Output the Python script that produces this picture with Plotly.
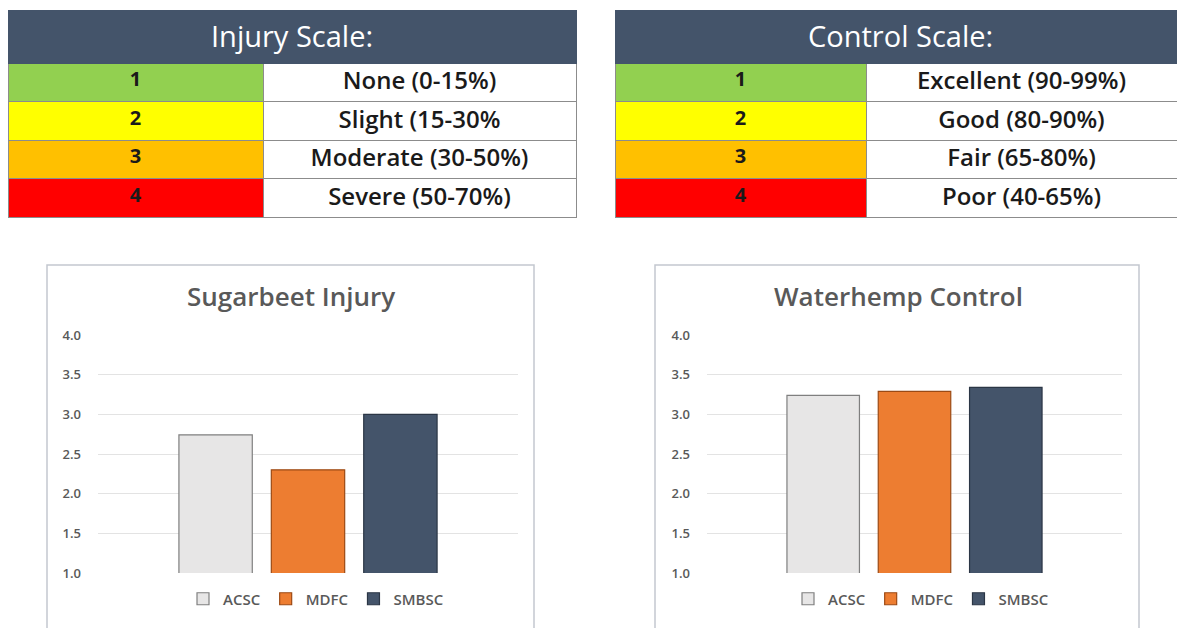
import plotly.graph_objects as go

W, H = 1177, 628

# ---------------- data ----------------
scale_levels = ["1", "2", "3", "4"]
scale_colors = ["#92D050", "#FFFF00", "#FFC000", "#FF0000"]
injury_labels = ["None (0-15%)", "Slight (15-30%", "Moderate (30-50%)", "Severe (50-70%)"]
control_labels = ["Excellent (90-99%)", "Good (80-90%)", "Fair (65-80%)", "Poor (40-65%)"]

series = ["ACSC", "MDFC", "SMBSC"]
series_colors = ["#E7E6E6", "#ED7D31", "#44546A"]
series_lines = ["#7F7F7F", "#9C4A14", "#2B3645"]
injury_values = [2.74, 2.30, 3.00]
control_values = [3.24, 3.29, 3.34]
y_ticks = [1.0, 1.5, 2.0, 2.5, 3.0, 3.5, 4.0]

FONT = "Open Sans"
GRAY = "#595959"
HEADER = "#44546A"


def X(px):
    return px / W


def Y(py):
    return 1 - py / H


fig = go.Figure()

# ---------------- scale tables ----------------
def add_table(x0, x1, split, labels):
    fig.add_trace(go.Table(
        domain=dict(x=[X(x0), min(X(x1), 1)], y=[Y(220), Y(10)]),
        columnwidth=[split - x0, x1 - split],
        header=dict(values=["", ""], height=53,
                    fill_color=HEADER, line=dict(color=HEADER, width=1)),
        cells=dict(values=[scale_levels, labels], height=38.5,
                   align="center",
                   fill_color=[scale_colors, ["#FFFFFF"] * len(labels)],
                   line=dict(color="#8C8C8C", width=1),
                   font=dict(family=FONT, size=[20, 24], color=["#1A1A1A", "#1A1A1A"],
                             weight=[700, 600])),
    ))


add_table(8, 576, 263, injury_labels)
add_table(615, 1177, 866, control_labels)


def ann(x, y, text, size, color, weight=400):
    return dict(x=X(x), y=Y(y), text=text, showarrow=False, xref="paper", yref="paper",
                xanchor="center", yanchor="middle",
                font=dict(family=FONT, size=size, color=color, weight=weight))


annotations = [
    ann(292, 36, "Injury Scale:", 29, "#FFFFFF", 500),
    ann(900, 36, "Control Scale:", 29, "#FFFFFF", 500),
    ann(291, 296, "Sugarbeet Injury", 26, GRAY, 600),
    ann(898, 296, "Waterhemp Control", 26, GRAY, 600),
]

# ---------------- bar charts ----------------
for i, name in enumerate(series):
    fig.add_trace(go.Bar(x=[0], y=[injury_values[i]], name=name, xaxis="x", yaxis="y",
                         marker=dict(color=series_colors[i], line=dict(color=series_lines[i], width=1.2)),
                         legend="legend"))
for i, name in enumerate(series):
    fig.add_trace(go.Bar(x=[0], y=[control_values[i]], name=name, xaxis="x2", yaxis="y2",
                         marker=dict(color=series_colors[i], line=dict(color=series_lines[i], width=1.2)),
                         legend="legend2"))

yax = dict(range=[1, 4], tickvals=y_ticks, tickformat=".1f", showgrid=True, gridcolor="#E3E3E3",
           gridwidth=1, zeroline=False, showline=False, ticks="", ticklabelstandoff=16,
           tickfont=dict(family=FONT, size=13, color=GRAY, weight=600), fixedrange=True,
           automargin=False)
xax = dict(range=[-0.5, 0.5], showticklabels=False, showgrid=False, zeroline=False,
           showline=False, ticks="", fixedrange=True, automargin=False)

legend_common = dict(orientation="h", xanchor="center", yanchor="middle",
                     font=dict(family=FONT, size=15, color=GRAY, weight=600), bgcolor="rgba(0,0,0,0)",
                     traceorder="normal", itemwidth=30, itemclick=False)

shapes = [
    dict(type="rect", xref="paper", yref="paper", x0=X(47), x1=X(534), y0=Y(660), y1=Y(265),
         line=dict(color="#C3C8D0", width=1.5), fillcolor="rgba(0,0,0,0)", layer="below"),
    dict(type="rect", xref="paper", yref="paper", x0=X(655), x1=X(1139), y0=Y(660), y1=Y(265),
         line=dict(color="#C3C8D0", width=1.5), fillcolor="rgba(0,0,0,0)", layer="below"),
]

fig.update_layout(
    width=W, height=H, autosize=False,
    margin=dict(l=0, r=0, t=0, b=0, pad=0, autoexpand=False),
    paper_bgcolor="#FFFFFF", plot_bgcolor="rgba(0,0,0,0)",
    barmode="group", bargap=0.34, bargroupgap=0.206,
    xaxis=dict(domain=[X(98), X(518)], anchor="y", **xax),
    yaxis=dict(domain=[Y(573), Y(335)], anchor="x", **yax),
    xaxis2=dict(domain=[X(707), X(1122)], anchor="y2", **xax),
    yaxis2=dict(domain=[Y(573), Y(335)], anchor="x2", **yax),
    legend=dict(x=X(316), y=Y(599), **legend_common),
    legend2=dict(x=X(921), y=Y(599), **legend_common),
    annotations=annotations,
    shapes=shapes,
    font=dict(family=FONT),
)

fig.write_html("out.html", config={"displayModeBar": False, "staticPlot": True},
               post_script="document.body.style.margin='0';document.body.style.overflow='hidden';")
